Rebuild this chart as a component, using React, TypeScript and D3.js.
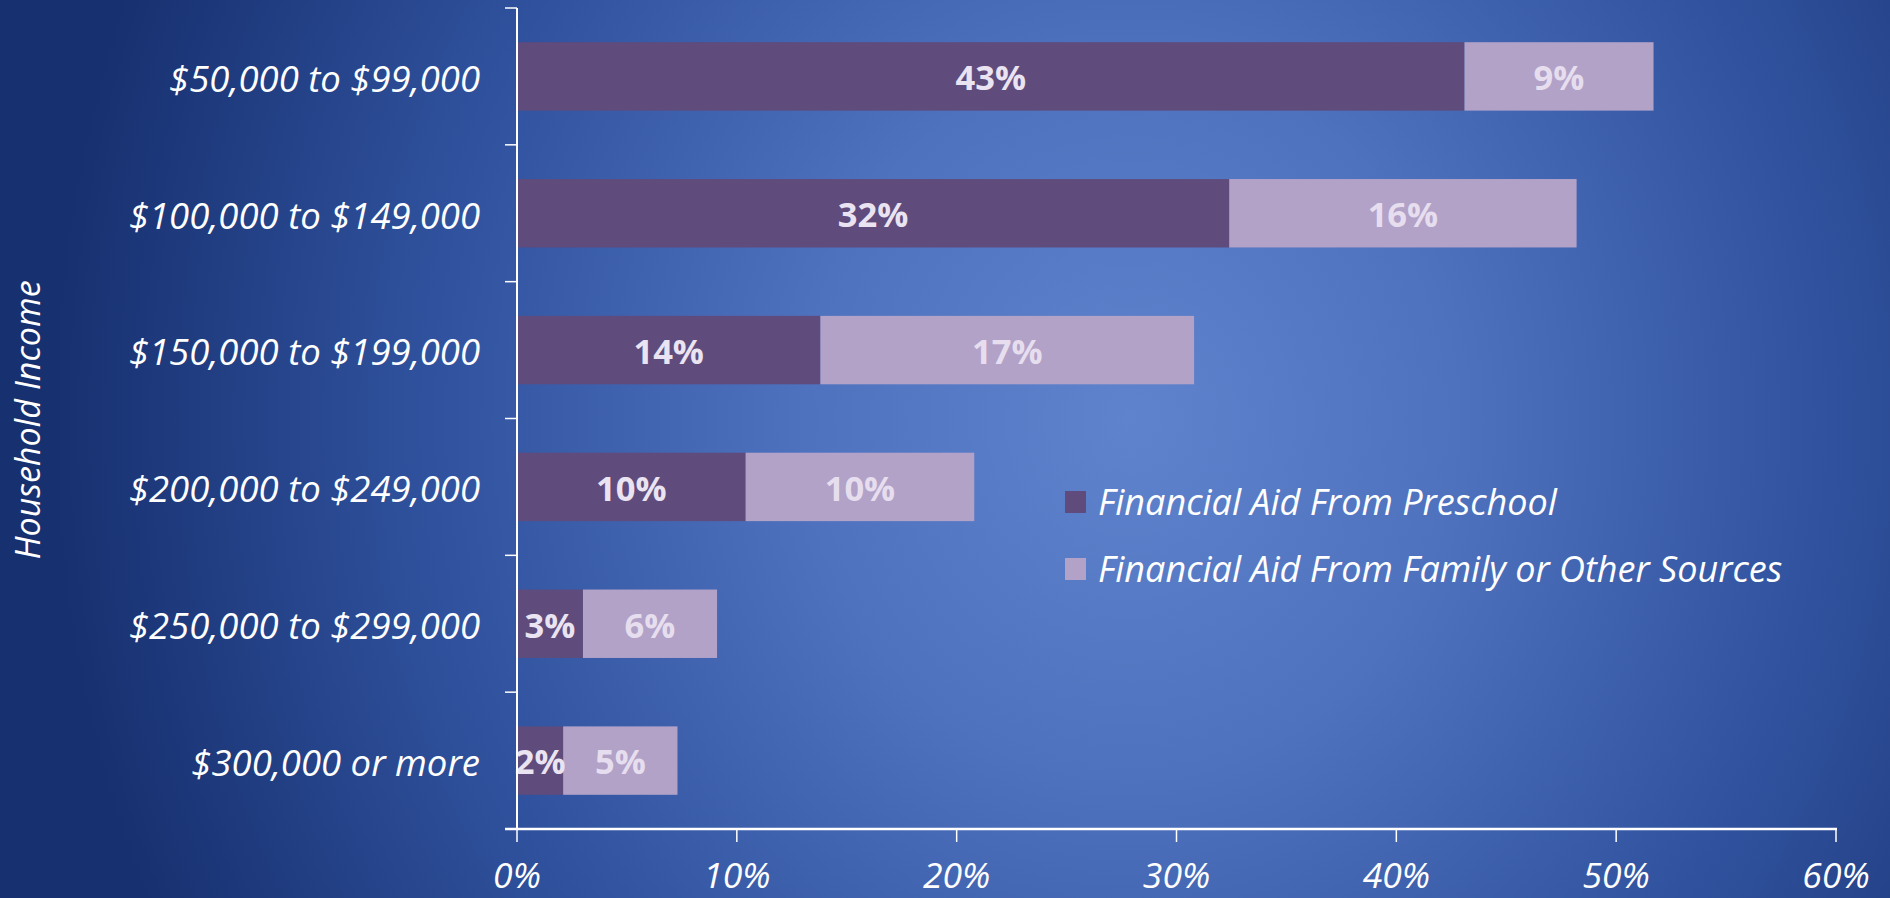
import React from "react";
import * as d3 from "d3";

const categories = [
  "$50,000 to $99,000",
  "$100,000 to $149,000",
  "$150,000 to $199,000",
  "$200,000 to $249,000",
  "$250,000 to $299,000",
  "$300,000 or more",
];
const preschool = [43.1, 32.4, 13.8, 10.4, 3.0, 2.1];
const family = [8.6, 15.8, 17.0, 10.4, 6.1, 5.2];
const preschoolLabels = ["43%", "32%", "14%", "10%", "3%", "2%"];
const familyLabels = ["9%", "16%", "17%", "10%", "6%", "5%"];
const xTicks = [0, 10, 20, 30, 40, 50, 60];
const seriesNames = ["Financial Aid From Preschool", "Financial Aid From Family or Other Sources"];

const W = 1890;
const H = 898;
const DARK = "#5F4B7C";
const LIGHT = "#B2A2C8";
const FONT = "'Open Sans', sans-serif";

export default function App() {
  const x = d3.scaleLinear().domain([0, 60]).range([517, 1836]);
  const y = d3
    .scaleBand<string>()
    .domain(categories)
    .range([8, 829])
    .paddingInner(0.5)
    .paddingOuter(0.25);
  const step = y.step();
  const bw = y.bandwidth();
  const yTickPos = d3.range(categories.length + 1).map((i) => 8 + i * step);

  return (
    <svg
      width={W}
      height={H}
      style={{ position: "absolute", left: 0, top: 0, display: "block" }}
    >
      <defs>
        <radialGradient
          id="bg"
          gradientUnits="userSpaceOnUse"
          cx={1130}
          cy={420}
          r={1080}
          gradientTransform="translate(1130 420) scale(1 1.1) translate(-1130 -420)"
        >
          <stop offset="0" stopColor="#5F83CD" />
          <stop offset="0.3" stopColor="#4F72BE" />
          <stop offset="0.65" stopColor="#30529E" />
          <stop offset="1" stopColor="#17306F" />
        </radialGradient>
      </defs>
      <rect x={0} y={0} width={W} height={H} fill="url(#bg)" />

      {/* bars */}
      {categories.map((c, i) => {
        const y0 = y(c)!;
        const x0 = x(0);
        const x1 = x(preschool[i]);
        const x2 = x(preschool[i] + family[i]);
        return (
          <g key={c}>
            <rect x={x0} y={y0} width={x1 - x0} height={bw} fill={DARK} />
            <rect x={x1} y={y0} width={x2 - x1} height={bw} fill={LIGHT} />
            <text
              x={(x0 + x1) / 2}
              y={y0 + bw / 2}
              dy="0.4em"
              textAnchor="middle"
              fontFamily={FONT}
              fontWeight={700}
              fontSize={34.5}
              fill="#EAE3F1"
            >
              {preschoolLabels[i]}
            </text>
            <text
              x={(x1 + x2) / 2}
              y={y0 + bw / 2}
              dy="0.4em"
              textAnchor="middle"
              fontFamily={FONT}
              fontWeight={700}
              fontSize={34.5}
              fill="#E6DEEE"
            >
              {familyLabels[i]}
            </text>
            <text
              x={480}
              y={y0 + bw / 2}
              dy="0.42em"
              textAnchor="end"
              fontFamily={FONT}
              fontStyle="italic"
              fontSize={36.5}
              fill="#FFFFFF"
            >
              {c}
            </text>
          </g>
        );
      })}

      {/* y axis */}
      <line x1={517} x2={517} y1={8} y2={830} stroke="#FFFFFF" strokeWidth={2} />
      {yTickPos.map((p, i) => (
        <line key={i} x1={505} x2={517} y1={p} y2={p} stroke="#FFFFFF" strokeWidth={1.5} />
      ))}

      {/* x axis */}
      <line x1={505} x2={1837} y1={829} y2={829} stroke="#FFFFFF" strokeWidth={2.5} />
      {xTicks.map((t) => (
        <g key={t}>
          <line x1={x(t)} x2={x(t)} y1={829} y2={842} stroke="#FFFFFF" strokeWidth={1.5} />
          <text
            x={x(t)}
            y={888}
            textAnchor="middle"
            fontFamily={FONT}
            fontStyle="italic"
            fontSize={35.5}
            fill="#FFFFFF"
          >
            {t}%
          </text>
        </g>
      ))}

      {/* y title */}
      <text
        transform={`translate(28 420) rotate(-90)`}
        textAnchor="middle"
        dy="0.36em"
        fontFamily={FONT}
        fontStyle="italic"
        fontSize={34}
        fill="#FFFFFF"
      >
        Household Income
      </text>

      {/* legend */}
      {seriesNames.map((s, i) => {
        const cy = 502 + i * 67;
        return (
          <g key={s}>
            <rect x={1065} y={cy - 11} width={21} height={22} fill={i === 0 ? DARK : LIGHT} />
            <text
              x={1098}
              y={cy}
              dy="0.36em"
              fontFamily={FONT}
              fontStyle="italic"
              fontSize={36}
              fill="#FFFFFF"
            >
              {s}
            </text>
          </g>
        );
      })}
    </svg>
  );
}
